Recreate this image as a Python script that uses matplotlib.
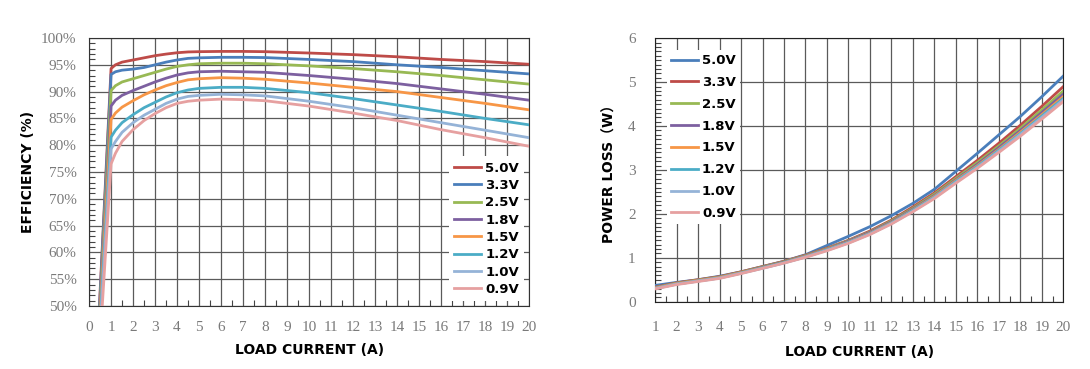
import numpy as np
import matplotlib
matplotlib.use('Agg')
import matplotlib.pyplot as plt
from matplotlib.font_manager import FontProperties
from matplotlib.ticker import MultipleLocator, FuncFormatter

# ---- data ----
labels = ['5.0V', '3.3V', '2.5V', '1.8V', '1.5V', '1.2V', '1.0V', '0.9V']
eff_colors = ['#BE4B48', '#4A7EBB', '#98B954', '#7D60A0', '#F79646', '#4BACC6', '#95B3D7', '#E6A0A0']

# efficiency: each curve starts at 50% at its own current, then the shared grid
eff_start_x = [0.47, 0.48, 0.50, 0.51, 0.52, 0.54, 0.56, 0.60]
eff_x = [1, 1.2, 1.5, 2, 2.5, 3, 3.5, 4, 4.5, 5, 6, 7, 8, 10, 12, 14, 16, 18, 20]
eff_50 = [94.3, 95.0, 95.5, 95.9, 96.3, 96.7, 97.0, 97.25, 97.4, 97.45, 97.5, 97.5, 97.45, 97.2, 96.9, 96.5, 96.0, 95.6, 95.1]
eff_33 = [93.2, 93.7, 94.0, 94.2, 94.5, 95.0, 95.5, 95.9, 96.2, 96.3, 96.4, 96.4, 96.35, 96.0, 95.6, 95.0, 94.5, 93.9, 93.3]
eff_25 = [90.2, 91.1, 91.8, 92.4, 93.0, 93.6, 94.2, 94.7, 95.0, 95.2, 95.3, 95.3, 95.2, 94.8, 94.3, 93.7, 93.0, 92.2, 91.4]
eff_18 = [87.3, 88.4, 89.3, 90.2, 91.0, 91.8, 92.5, 93.1, 93.5, 93.7, 93.8, 93.7, 93.6, 93.0, 92.3, 91.5, 90.5, 89.5, 88.4]
eff_15 = [84.8, 86.0, 87.1, 88.3, 89.4, 90.3, 91.1, 91.7, 92.2, 92.4, 92.6, 92.5, 92.3, 91.6, 90.8, 90.0, 88.9, 87.8, 86.6]
eff_12 = [81.5, 82.8, 84.2, 85.7, 87.0, 88.0, 89.0, 89.8, 90.3, 90.6, 90.8, 90.8, 90.6, 89.8, 88.7, 87.5, 86.3, 85.0, 83.8]
eff_10 = [79.3, 80.7, 82.4, 84.2, 85.6, 86.7, 87.8, 88.6, 89.1, 89.3, 89.5, 89.4, 89.2, 88.2, 87.0, 85.6, 84.2, 82.8, 81.4]
eff_09 = [76.5, 78.5, 80.7, 82.9, 84.6, 85.9, 87.0, 87.8, 88.2, 88.4, 88.6, 88.5, 88.3, 87.3, 86.0, 84.6, 82.9, 81.4, 79.8]
eff_series = [eff_50, eff_33, eff_25, eff_18, eff_15, eff_12, eff_10, eff_09]

# power loss
loss_x = list(range(1, 21))
loss_colors = ['#4A7EBB', '#BE4B48', '#98B954', '#7D60A0', '#F79646', '#4BACC6', '#95B3D7', '#E6A0A0']
loss_50 = [0.37, 0.44, 0.50, 0.58, 0.68, 0.80, 0.92, 1.07, 1.28, 1.49, 1.71, 1.96, 2.24, 2.56, 2.97, 3.38, 3.80, 4.22, 4.67, 5.14]
loss_33 = [0.33, 0.43, 0.50, 0.57, 0.68, 0.80, 0.92, 1.06, 1.22, 1.40, 1.61, 1.86, 2.16, 2.48, 2.85, 3.22, 3.61, 4.02, 4.45, 4.90]
loss_25 = [0.32, 0.42, 0.49, 0.56, 0.67, 0.79, 0.91, 1.05, 1.21, 1.39, 1.59, 1.84, 2.13, 2.45, 2.81, 3.17, 3.55, 3.95, 4.37, 4.80]
loss_18 = [0.31, 0.41, 0.48, 0.55, 0.66, 0.78, 0.90, 1.04, 1.20, 1.38, 1.58, 1.82, 2.11, 2.42, 2.78, 3.13, 3.51, 3.90, 4.31, 4.73]
loss_15 = [0.31, 0.41, 0.48, 0.55, 0.66, 0.77, 0.89, 1.03, 1.19, 1.36, 1.56, 1.80, 2.09, 2.40, 2.76, 3.10, 3.47, 3.86, 4.26, 4.67]
loss_12 = [0.30, 0.40, 0.47, 0.54, 0.65, 0.77, 0.89, 1.02, 1.18, 1.35, 1.55, 1.79, 2.08, 2.38, 2.74, 3.08, 3.45, 3.83, 4.23, 4.63]
loss_10 = [0.30, 0.40, 0.47, 0.54, 0.65, 0.76, 0.88, 1.02, 1.17, 1.34, 1.54, 1.78, 2.06, 2.37, 2.72, 3.06, 3.43, 3.81, 4.20, 4.60]
loss_09 = [0.29, 0.39, 0.46, 0.53, 0.64, 0.76, 0.88, 1.01, 1.16, 1.33, 1.53, 1.77, 2.05, 2.35, 2.70, 3.04, 3.40, 3.77, 4.16, 4.56]
loss_series = [loss_50, loss_33, loss_25, loss_18, loss_15, loss_12, loss_10, loss_09]

LABEL_FONT = dict(family=['DejaVu Sans', 'Noto Sans CJK SC'], size=10, weight='bold')
LEGEND_FONT = dict(family='DejaVu Sans', weight='bold', size=9.5)
GRID_COLOR = '#5a5a5a'

def style_ticks(ax):
  for t in ax.get_xticklabels() + ax.get_yticklabels():
    t.set_fontproperties(FontProperties(family='Liberation Serif', size=11))
    t.set_color('#7a7a7a')

fig = plt.figure(figsize=(10.9, 3.69), dpi=100)

# ════════ left: efficiency ════════
ax1 = fig.add_axes([0.0817, 0.1707, 0.4037, 0.7263])
for x0, ys, c, lab in zip(eff_start_x, eff_series, eff_colors, labels):
  ax1.plot([x0] + eff_x, [50] + ys, color=c, lw=2, label=lab, solid_joinstyle='round', zorder=3)
ax1.set_xlim(0, 20)
ax1.set_ylim(50, 100)
ax1.xaxis.set_major_locator(MultipleLocator(1))
ax1.xaxis.set_minor_locator(MultipleLocator(0.5))
ax1.yaxis.set_major_locator(MultipleLocator(5))
ax1.yaxis.set_minor_locator(MultipleLocator(1))
ax1.yaxis.set_major_formatter(FuncFormatter(lambda v, p: f'{v:.0f}%'))
ax1.grid(True, which='major', color=GRID_COLOR, lw=0.9, zorder=1)
ax1.tick_params(which='major', length=0, pad=9)
ax1.tick_params(which='minor', direction='in', length=4, color='#444', width=0.8)
ax1.tick_params(axis='x', which='major', pad=11)
style_ticks(ax1)
for s in ax1.spines.values():
  s.set_color('#333')
ax1.set_xlabel('LOAD CURRENT (A)', labelpad=6, **LABEL_FONT)
ax1.set_ylabel('EFFICIENCY (%)', labelpad=4, **LABEL_FONT)
leg1 = ax1.legend(loc='lower right', frameon=True, fancybox=False, edgecolor='none',
                  framealpha=1, prop=LEGEND_FONT,
                  handlelength=2.05, handletextpad=0.3, labelspacing=0.33,
                  borderaxespad=0.35, borderpad=0.4)
leg1.set_zorder(4)

# ════════ right: power loss ════════
ax2 = fig.add_axes([0.601, 0.1824, 0.3745, 0.7138])
for ys, c, lab in zip(loss_series, loss_colors, labels):
  ax2.plot(loss_x, ys, color=c, lw=2, label=lab, zorder=3)
ax2.set_xlim(1, 20)
ax2.set_ylim(0, 6)
ax2.xaxis.set_major_locator(MultipleLocator(1))
ax2.xaxis.set_minor_locator(MultipleLocator(0.5))
ax2.yaxis.set_major_locator(MultipleLocator(1))
ax2.yaxis.set_minor_locator(MultipleLocator(0.1))
ax2.grid(True, which='major', color=GRID_COLOR, lw=0.9, zorder=1)
ax2.tick_params(which='major', length=0, pad=14)
ax2.tick_params(which='minor', direction='in', length=4, color='#444', width=0.8)
style_ticks(ax2)
for s in ax2.spines.values():
  s.set_color('#222')
ax2.set_xlabel('LOAD CURRENT (A)', labelpad=8, **LABEL_FONT)
ax2.set_ylabel('POWER LOSS（W）', labelpad=8, **LABEL_FONT)
leg2 = ax2.legend(loc='upper left', frameon=True, fancybox=False, edgecolor='none',
                  framealpha=1, prop=LEGEND_FONT,
                  handlelength=2.05, handletextpad=0.3, labelspacing=0.67,
                  borderaxespad=0.9, borderpad=0.3)
leg2.set_zorder(4)

fig.savefig('out.png', dpi=100)
